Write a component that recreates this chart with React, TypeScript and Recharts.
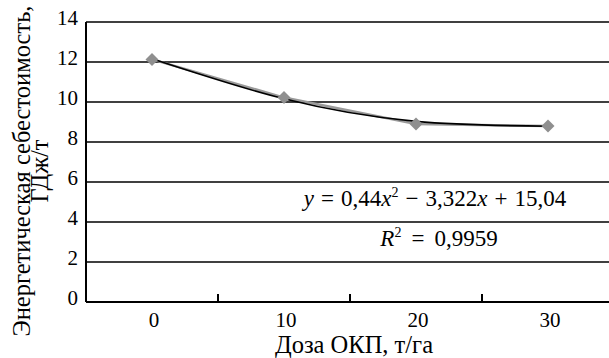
import React from "react"
import { LineChart, Line, XAxis, YAxis, CartesianGrid } from "recharts"

// доза ОКП, т/га
const doses = ["0", "10", "20", "30"]
// энергетическая себестоимость, ГДж/т (исходные точки)
const costValues = [12.13, 10.22, 8.9, 8.8]
// полиномиальный тренд в тех же точках
const trendValues = [12.16, 10.16, 9.03, 8.79]
const yTicks = [0, 2, 4, 6, 8, 10, 12, 14]

const data = doses.map((d, i) => ({
  idx: i,
  dose: d,
  cost: costValues[i],
  trend: trendValues[i],
}))

const FONT = "Liberation Serif"
const CHART_W = 614
const Y_AXIS_W = 86
const HALF_BAND = (CHART_W - Y_AXIS_W) / doses.length / 2

const Diamond = (props: any) => {
  const { cx, cy } = props
  if (cx == null || cy == null) return null
  const r = 6.5
  return (
    <polygon
      points={`${cx},${cy - r} ${cx + r},${cy} ${cx},${cy + r} ${cx - r},${cy}`}
      fill="#8f8f8f"
    />
  )
}

// category label plus the small inward tick between categories
const DoseTick = (props: any) => {
  const { x, y, payload, index } = props
  const axisY = y - 8
  return (
    <g>
      <text
        x={x + 2}
        y={y}
        dy="0.8em"
        textAnchor="middle"
        fontFamily={FONT}
        fontSize={21}
        fill="#000"
      >
        {doses[payload.value]}
      </text>
      {index < doses.length - 1 && (
        <line
          x1={x + HALF_BAND}
          x2={x + HALF_BAND}
          y1={axisY}
          y2={axisY - 8}
          stroke="#000"
          strokeWidth={2}
        />
      )}
    </g>
  )
}

const ValueTick = (props: any) => {
  const { x, y, payload } = props
  return (
    <text
      x={x}
      y={y - 4}
      dy="0.35em"
      textAnchor="end"
      fontFamily={FONT}
      fontSize={21}
      fill="#000"
    >
      {payload.value}
    </text>
  )
}

// two-line rotated title of the value axis
const YTitle = () => {
  const cy = 171
  return (
    <g fontFamily={FONT} fontSize={24.5} fill="#000">
      <text x={30} y={cy} transform={`rotate(-90, 30, ${cy})`} textAnchor="middle">
        Энергетическая себестоимость,
      </text>
      <text x={48} y={cy} transform={`rotate(-90, 48, ${cy})`} textAnchor="middle">
        ГДж/т
      </text>
    </g>
  )
}

const XTitle = () => (
  <text x={354} y={353} textAnchor="middle" fontFamily={FONT} fontSize={24.5} fill="#000">
    Доза ОКП, т/га
  </text>
)

const op = (s: string, m = 7) => <span style={{ margin: `0 ${m}px` }}>{s}</span>
const sup = (s: string) => (
  <sup style={{ fontSize: 14, verticalAlign: "9px", lineHeight: 0 }}>{s}</sup>
)

const noteStyle: React.CSSProperties = {
  position: "absolute",
  transform: "translateX(-50%)",
  whiteSpace: "nowrap",
  fontFamily: FONT,
  fontSize: 23,
  lineHeight: "26px",
  color: "#000",
}

export default function App() {
  return (
    <div
      style={{
        position: "absolute",
        left: 0,
        top: 0,
        width: 609,
        height: 358,
        overflow: "hidden",
        background: "#fff",
      }}
    >
      <LineChart
        width={CHART_W}
        height={358}
        data={data}
        margin={{ top: 22, right: 0, bottom: 0, left: 0 }}
      >
        <CartesianGrid horizontal vertical={false} stroke="#000" strokeWidth={1.5} />
        <XAxis
          dataKey="idx"
          type="number"
          domain={[-0.5, 3.5]}
          ticks={[0, 1, 2, 3]}
          height={56}
          axisLine={{ stroke: "#000", strokeWidth: 2 }}
          tickLine={false}
          tick={<DoseTick />}
          label={<XTitle />}
        />
        <YAxis
          domain={[0, 14]}
          ticks={yTicks}
          width={Y_AXIS_W}
          axisLine={{ stroke: "#000", strokeWidth: 2 }}
          tickLine={false}
          tick={<ValueTick />}
          label={<YTitle />}
        />
        <Line
          dataKey="cost"
          stroke="#9a9a9a"
          strokeWidth={2.5}
          dot={<Diamond />}
          isAnimationActive={false}
        />
        <Line
          dataKey="trend"
          type="natural"
          stroke="#000"
          strokeWidth={1.6}
          dot={false}
          isAnimationActive={false}
        />
      </LineChart>
      <div style={{ ...noteStyle, left: 435, top: 186 }}>
        <i>y</i>
        {op("=")}0,44<i>x</i>
        {sup("2")}
        {op("−")}3,322<i>x</i>
        {op("+")}15,04
      </div>
      <div style={{ ...noteStyle, left: 439, top: 226 }}>
        <i>R</i>
        {sup("2")}
        {op("=", 10)}0,9959
      </div>
    </div>
  )
}
